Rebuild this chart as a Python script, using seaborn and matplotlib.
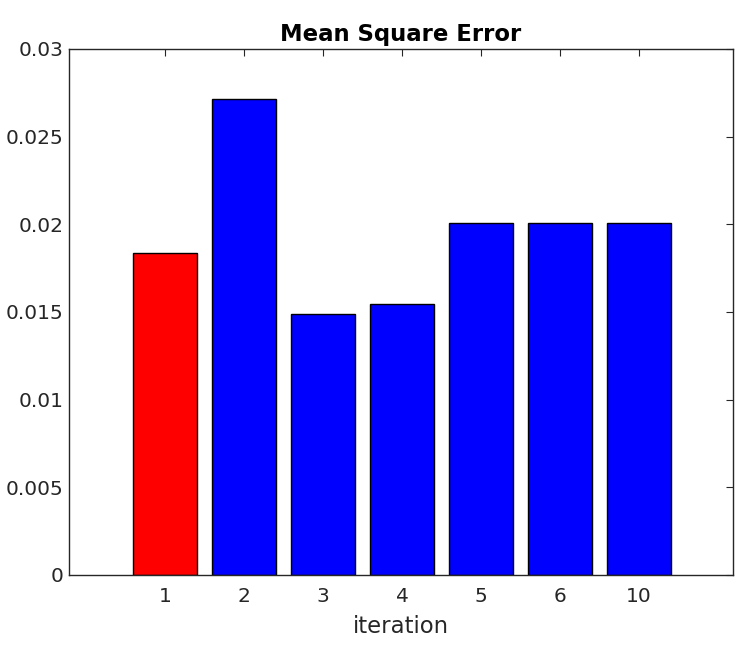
import pandas as pd
import numpy as np
import matplotlib
matplotlib.use('Agg')
import matplotlib.pyplot as plt
import seaborn as sns

# data
iterations = ['1', '2', '3', '4', '5', '6', '10']
mse = [0.01839, 0.02715, 0.01486, 0.01548, 0.02009, 0.02009, 0.02009]
bar_colors = ['#ff0000', '#0000ff', '#0000ff', '#0000ff', '#0000ff', '#0000ff', '#0000ff']

df = pd.DataFrame({'iteration': iterations, 'mse': mse})

sns.set_style('white')
plt.rcParams['font.family'] = ['DejaVu Sans']
plt.rcParams['text.color'] = '#262626'
plt.rcParams['axes.labelcolor'] = '#262626'
plt.rcParams['xtick.color'] = '#262626'
plt.rcParams['ytick.color'] = '#262626'

fig = plt.figure(figsize=(7.38, 6.47), dpi=100)
ax = fig.add_axes([0.0935, 0.1113, 0.8997, 0.813])

sns.barplot(data=df, x='iteration', y='mse', hue='iteration', order=iterations,
            palette=bar_colors, legend=False, width=0.8, saturation=1,
            edgecolor='black', linewidth=1.0, ax=ax)

ax.set_xlim(-1.215, 7.19)
ax.set_ylim(0, 0.03)
ax.set_yticks([0, 0.005, 0.01, 0.015, 0.02, 0.025, 0.03])
ax.set_yticklabels(['0', '0.005', '0.01', '0.015', '0.02', '0.025', '0.03'])
ax.tick_params(direction='in', length=5, width=0.8, labelsize=14.5,
               top=True, right=True)
ax.tick_params(axis='y', pad=4)
ax.tick_params(axis='x', pad=9)
for s in ax.spines.values():
    s.set_visible(True)
    s.set_color('#262626')
    s.set_linewidth(1.0)

ax.set_xlabel('iteration', fontsize=16.4, labelpad=6)
ax.set_ylabel('')
ax.set_title('Mean Square Error', fontsize=16.4, fontweight='bold', color='black', pad=6)

fig.savefig('out.png', dpi=100)
